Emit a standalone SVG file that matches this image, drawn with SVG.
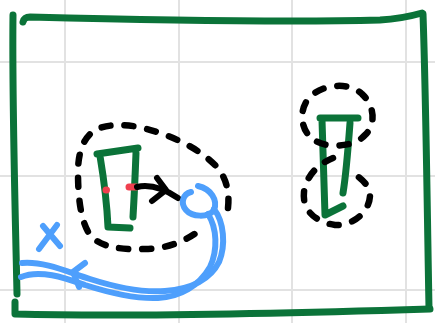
<svg xmlns="http://www.w3.org/2000/svg" width="435" height="323" viewBox="0 0 435 323">
<style>
.grid{stroke:#e2e2e2;stroke-width:2;fill:none}
.g{stroke:#0b7339;stroke-width:7;fill:none;stroke-linecap:round;stroke-linejoin:round}
.d{stroke:#000;stroke-width:6.5;fill:none;stroke-linecap:round;stroke-dasharray:9 14}
.k{stroke:#000;stroke-width:6;fill:none;stroke-linecap:round;stroke-linejoin:round}
.b{stroke:#4e9ffc;stroke-width:6;fill:none;stroke-linecap:round;stroke-linejoin:round}
.r{stroke:#f0404f;stroke-width:7;fill:none;stroke-linecap:round}
</style>
<rect width="435" height="323" fill="#fff"/>
<g id="grid" class="grid">
<path d="M65,0V323M179,0V323M292,0V323M406,0V323M0,62H435M0,176H435M0,290H435"/>
</g>
<g id="frame" class="g">
<path d="M13,15 C12,100 15,200 17,294"/>
<path d="M23,22 C24,18 26,17 30,17 C150,20 300,22 380,20 C400,19 415,15 422,13"/>
<path d="M423,14 C426,100 427,200 429,308"/>
<path d="M15,302 L15,314 C120,317 300,313 430,309"/>
</g>
<g id="node-left">
<path class="g" d="M97,154 L138,148 M100,156 C104,180 107,205 108,227 L130,228 M136,153 C135,180 134,200 133,217"/>
<path class="d" d="M228,208 C230,190 225,175 215,165 C200,150 180,140 160,133 C140,126 118,122 100,128 C85,133 78,150 78,172 C78,195 80,220 90,235 C100,247 120,250 145,249 C165,249 185,242 200,230"/>
<path class="r" d="M106,190 L106.5,190 M129,187 L136,187"/>
</g>
<g id="node-right">
<path class="g" d="M320,118 L358,118 M322,120 C323,150 324,185 325,215 L343,206 M350,123 C348,150 346,175 343,193"/>
<path class="d" d="M307,133 C300,123 300,105 312,95 C325,84 350,82 362,94 C375,106 376,125 365,135 C358,143 345,147 327,145 C318,143 312,140 307,133"/>
<path class="d" d="M333,158 C320,163 306,175 304,192 C302,210 315,222 335,225 C355,226 370,210 370,195 C370,185 360,178 352,172"/>
</g>
<g id="connectors">
<path class="k" d="M137,187 C150,184 163,188 178,198"/>
<path class="k" d="M157,178 L166,190 L152,201"/>
<path class="b" d="M198,186 C211,189 218,200 214,210 C208,218 192,217 186,210 C180,203 183,194 191,192"/>
<path class="b" d="M214,209 C224,222 226,245 219,262 C210,280 190,289 165,291 C140,293 115,287 90,279 C70,273 45,261 22,263"/>
<path class="b" d="M208,214 C217,228 218,250 210,267 C199,286 180,297 158,298 C135,299 110,293 85,285 C65,278 40,269 21,277"/>
<path class="b" d="M85,263 L73,272 L79,287"/>
<path class="b" d="M43,226 L60,246 M57,225 L39,249"/>
</g>
</svg>
